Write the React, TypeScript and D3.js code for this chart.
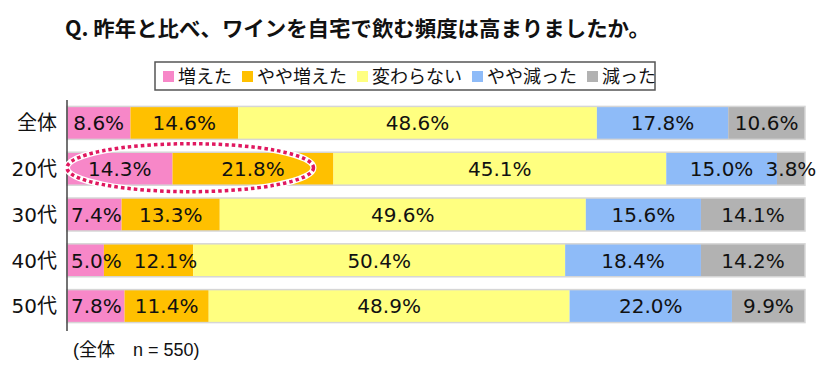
import React, { useEffect } from 'react';
import * as d3 from 'd3';

const title = 'Q. 昨年と比べ、ワインを自宅で飲む頻度は高まりましたか。';
const categories = ['全体', '20代', '30代', '40代', '50代'];
const seriesNames = ['増えた', 'やや増えた', '変わらない', 'やや減った', '減った'];
const seriesColors = ['#F787C8', '#FFC000', '#FFFF80', '#8EBBF8', '#B2B2B2'];

const increased = [8.6, 14.3, 7.4, 5.0, 7.8];
const slightlyIncreased = [14.6, 21.8, 13.3, 12.1, 11.4];
const unchanged = [48.6, 45.1, 49.6, 50.4, 48.9];
const slightlyDecreased = [17.8, 15.0, 15.6, 18.4, 22.0];
const decreased = [10.6, 3.8, 14.1, 14.2, 9.9];

const footnote = '(全体　n = 550)';

const W = 826;
const H = 370;
const cjk = '"Noto Sans CJK JP", sans-serif';
const num = '"DejaVu Sans", Verdana, sans-serif';
const labelSize = 20;

// rough width of a DejaVu Sans label like "12.3%"
const labelWidth = (s: string) =>
  s.split('').reduce((w, c) => w + (c === '.' ? 0.318 : c === '%' ? 0.95 : 0.636), 0) * labelSize;

export default function App() {
  useEffect(() => {
    document.body.style.margin = '0';
  }, []);

  const series = [increased, slightlyIncreased, unchanged, slightlyDecreased, decreased];

  const x = d3.scaleLinear().domain([0, 100]).range([67, 805]).clamp(true);
  const y = d3.scaleBand<string>()
    .domain(categories)
    .range([100, 329])
    .paddingInner(0.28)
    .paddingOuter(0.14);

  // stacked segments per row, labels nudged right so they don't collide
  const rows = categories.map((cat, i) => {
    let acc = 0;
    let prevRight = x(0) - 8;
    return series.map((s, k) => {
      const v0 = acc;
      acc += s[i];
      const x0 = x(v0);
      const x1 = x(acc);
      const label = s[i].toFixed(1) + '%';
      const w = labelWidth(label);
      const lx = Math.max((x0 + x1) / 2, prevRight + 12 + w / 2);
      prevRight = lx + w / 2;
      return { cat, k, label, x0, x1, lx };
    });
  });

  // legend layout
  const legendFont = 18;
  const sq = 11;
  let lx = 163;
  const legendItems = seriesNames.map((name, k) => {
    const item = { name, k, x: lx };
    lx += sq + 5 + name.length * legendFont + 9;
    return item;
  });

  // dotted highlight around 20代 increased part
  const hy = (y('20代') ?? 0) + y.bandwidth() / 2;
  const hx0 = x(0);
  const hx1 = x(33.4);

  return (
    <svg width={W} height={H} style={{ display: 'block', background: '#fff' }}>
      <text x={65} y={36} fontFamily={cjk} fontWeight="bold" fontSize={21}
        textLength={585} lengthAdjust="spacingAndGlyphs" fill="#111">{title}</text>

      <rect x={155} y={62} width={500} height={28} fill="#fff" stroke="#555" strokeWidth={1.5} />
      {legendItems.map(d => (
        <g key={d.name}>
          <rect x={d.x} y={71} width={sq} height={sq} fill={seriesColors[d.k]} />
          <text x={d.x + sq + 4} y={83} fontFamily={cjk} fontSize={legendFont} fill="#111">{d.name}</text>
        </g>
      ))}

      {rows.map((segs, i) => {
        const by = y(categories[i]) ?? 0;
        const bh = y.bandwidth();
        return (
          <g key={categories[i]}>
            {segs.map(s => (
              <rect key={s.k} x={s.x0} y={by} width={Math.max(0, s.x1 - s.x0)} height={bh}
                fill={seriesColors[s.k]} />
            ))}
            <rect x={x(0)} y={by} width={x(100) - x(0)} height={bh} fill="none" stroke="#d6d6d6" strokeWidth={1.5} />
            {segs.map(s => (
              <text key={'t' + s.k} x={s.lx} y={by + bh / 2} dy="0.36em"
                textAnchor="middle" fontFamily={num} fontSize={labelSize} fill="#111">{s.label}</text>
            ))}
            <text x={57} y={by + bh / 2} dy="0.36em" textAnchor="end" fontFamily={`"DejaVu Sans", ${cjk}`}
              fontSize={20} fill="#111">{categories[i]}</text>
          </g>
        );
      })}

      <line x1={x(0)} x2={x(0)} y1={100} y2={331} stroke="#444" strokeWidth={1.5} />

      <ellipse cx={(hx0 + hx1) / 2} cy={hy - 1} rx={(hx1 - hx0) / 2} ry={24} fill="none"
        stroke="#fff" strokeWidth={6} />
      <ellipse cx={(hx0 + hx1) / 2} cy={hy - 1} rx={(hx1 - hx0) / 2} ry={24} fill="none"
        stroke="#E0185F" strokeWidth={3.5} strokeDasharray="3.5 3" />

      <text x={73} y={356} fontFamily={`"Liberation Sans", ${cjk}`} fontSize={18} fill="#111">{footnote}</text>
    </svg>
  );
}
